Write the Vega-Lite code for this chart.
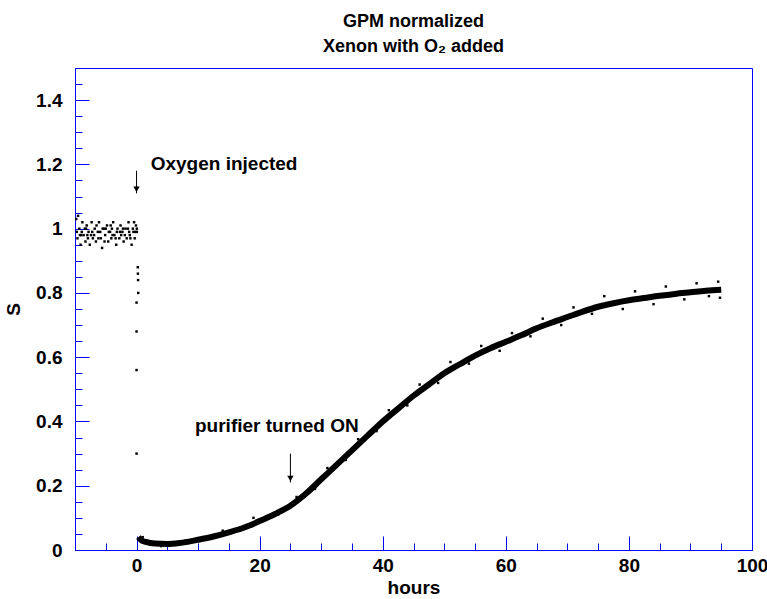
{
"$schema":"https://vega.github.io/schema/vega-lite/v6.json",
"width":677,"height":482,
"autosize":{"type":"none"},
"padding":{"left":75,"top":68,"right":15,"bottom":49},
"background":"white",
"config":{"view":{"stroke":"#0000ff","strokeWidth":1},"font":"Liberation Sans"},
"title":{"text":["GPM normalized","Xenon with O₂ added"],"font":"Liberation Sans","fontSize":18,"fontWeight":"bold","color":"black","offset":12,"anchor":"middle","lineHeight":25},
"resolve":{"axis":{"x":"independent","y":"independent"}},
"datasets":{
"pre":[
{"x":-9.8,"y":1.03},{"x":-9.6,"y":0.97},{"x":-9.3,"y":1.0},{"x":-9.1,"y":0.95},{"x":-8.8,"y":1.02},{"x":-8.6,"y":0.98},{"x":-8.3,"y":0.96},{"x":-8.1,"y":1.01},{"x":-7.8,"y":0.99},{"x":-7.6,"y":0.95},{"x":-7.3,"y":1.02},{"x":-7.1,"y":0.97},{"x":-6.8,"y":1.0},{"x":-6.6,"y":0.96},{"x":-6.3,"y":0.99},{"x":-6.1,"y":1.02},{"x":-5.8,"y":0.97},{"x":-5.6,"y":0.94},{"x":-5.3,"y":1.0},{"x":-5.1,"y":0.98},{"x":-4.8,"y":1.01},{"x":-4.6,"y":0.96},{"x":-4.3,"y":0.99},{"x":-4.1,"y":0.97},{"x":-3.8,"y":1.02},{"x":-3.6,"y":0.98},{"x":-3.3,"y":0.95},{"x":-3.1,"y":1.0},{"x":-2.8,"y":0.97},{"x":-2.6,"y":1.01},{"x":-2.3,"y":0.99},{"x":-2.1,"y":0.96},{"x":-1.8,"y":1.0},{"x":-1.6,"y":0.97},{"x":-1.3,"y":1.02},{"x":-1.1,"y":0.98},{"x":-0.8,"y":0.95},{"x":-0.6,"y":1.0},{"x":-0.3,"y":0.97},{"x":-0.1,"y":1.01},
{"x":-9.7,"y":0.99},{"x":-9.0,"y":0.98},{"x":-8.4,"y":1.0},{"x":-7.9,"y":0.97},{"x":-7.2,"y":0.99},{"x":-6.5,"y":1.01},{"x":-5.9,"y":0.99},{"x":-5.2,"y":0.96},{"x":-4.5,"y":0.99},{"x":-3.9,"y":0.98},{"x":-3.2,"y":0.99},{"x":-2.5,"y":0.98},{"x":-1.9,"y":0.98},{"x":-1.2,"y":0.99},{"x":-0.5,"y":0.99},
{"x":-9.5,"y":1.04},{"x":-8.9,"y":0.99},{"x":-8.0,"y":0.98},{"x":-6.9,"y":0.98},{"x":-5.5,"y":1.0},{"x":-4.0,"y":1.0},{"x":-2.7,"y":0.99},{"x":-1.4,"y":1.0},{"x":-0.2,"y":0.99},
{"x":-9.2,"y":0.98},{"x":-8.2,"y":1.0},{"x":-7.4,"y":0.98},{"x":-6.2,"y":0.97},{"x":-5.0,"y":1.0},{"x":-4.2,"y":1.01},{"x":-3.4,"y":0.97},{"x":-2.2,"y":1.0},{"x":-1.0,"y":0.97},{"x":-0.4,"y":1.02},
{"x":0.2,"y":0.88},{"x":0.22,"y":0.86},{"x":0.25,"y":0.84},{"x":0.27,"y":0.8},{"x":0.0,"y":0.77},{"x":0.0,"y":0.68},{"x":0.0,"y":0.56},{"x":0.0,"y":0.3},{"x":0.05,"y":1.0},{"x":0.05,"y":0.99}
],
"curve":[
{"x":0.3,"y":0.04},{"x":0.8,"y":0.03},{"x":1.5,"y":0.025},{"x":3,"y":0.02},{"x":5,"y":0.019},{"x":7,"y":0.022},{"x":10,"y":0.032},{"x":12.5,"y":0.042},{"x":15,"y":0.055},{"x":17.5,"y":0.07},{"x":20,"y":0.09},{"x":22.5,"y":0.112},{"x":25,"y":0.138},{"x":27.5,"y":0.175},{"x":30,"y":0.22},{"x":32.5,"y":0.265},{"x":35,"y":0.31},{"x":37.5,"y":0.355},{"x":40,"y":0.4},{"x":42.5,"y":0.44},{"x":45,"y":0.48},{"x":47.5,"y":0.515},{"x":50,"y":0.55},{"x":52.5,"y":0.578},{"x":55,"y":0.605},{"x":57.5,"y":0.628},{"x":60,"y":0.648},{"x":62.5,"y":0.668},{"x":65,"y":0.69},{"x":67.5,"y":0.708},{"x":70,"y":0.725},{"x":72.5,"y":0.742},{"x":75,"y":0.757},{"x":77.5,"y":0.768},{"x":80,"y":0.777},{"x":82.5,"y":0.784},{"x":85,"y":0.791},{"x":87.5,"y":0.797},{"x":90,"y":0.802},{"x":92.5,"y":0.807},{"x":95,"y":0.81}
],
"noise":[
{"x":1,"y":0.04},{"x":4,"y":0.012},{"x":8,"y":0.03},{"x":14,"y":0.06},{"x":19,"y":0.1},{"x":23,"y":0.11},{"x":26,"y":0.165},{"x":29,"y":0.19},{"x":31,"y":0.255},{"x":34,"y":0.28},{"x":36,"y":0.345},{"x":39,"y":0.37},{"x":41,"y":0.435},{"x":44,"y":0.45},{"x":46,"y":0.515},{"x":49,"y":0.52},{"x":51,"y":0.585},{"x":54,"y":0.58},{"x":56,"y":0.635},{"x":59,"y":0.62},{"x":61,"y":0.675},{"x":64,"y":0.665},{"x":66,"y":0.72},{"x":69,"y":0.7},{"x":71,"y":0.755},{"x":74,"y":0.735},{"x":76,"y":0.79},{"x":79,"y":0.75},{"x":81,"y":0.805},{"x":84,"y":0.765},{"x":86,"y":0.82},{"x":89,"y":0.78},{"x":91,"y":0.83},{"x":93,"y":0.79},{"x":94.5,"y":0.835},{"x":94.8,"y":0.785}
],
"labels":[
{"x":2.3,"y":1.2,"t":"Oxygen injected"},
{"x":9.5,"y":0.385,"t":"purifier turned ON"}
],
"arrows":[
{"x":0,"y1":1.18,"y2":1.11},
{"x":25,"y1":0.3,"y2":0.21}
]
},
"layer":[
{"data":{"name":"curve"},"mark":{"type":"line","color":"black","strokeWidth":6,"interpolate":"monotone"},
"encoding":{
"x":{"field":"x","type":"quantitative","scale":{"domain":[-10,100],"nice":false,"zero":false},
"axis":{"title":"hours","titleFontSize":19,"titleFontWeight":"bold","titleColor":"black","titlePadding":3,"orient":"bottom",
"labelFontSize":19,"labelFontWeight":"bold","labelColor":"black","labelPadding":20,
"values":[0,20,40,60,80,100],"domainColor":"#0000ff","tickColor":"#0000ff","tickSize":-14,"grid":false,"labelFlush":false}},
"y":{"field":"y","type":"quantitative","scale":{"domain":[0,1.5],"nice":false},
"axis":{"title":"S","titleFontSize":19,"titleFontWeight":"bold","titleColor":"black","titlePadding":12,"orient":"left",
"labelFontSize":19,"labelFontWeight":"bold","labelColor":"black","labelPadding":27,
"values":[0,0.2,0.4,0.6,0.8,1,1.2,1.4],"labelExpr":"datum.value==0?'0':datum.value==1?'1':format(datum.value,'.1f')",
"domainColor":"#0000ff","tickColor":"#0000ff","tickSize":-14,"grid":false}}}},
{"data":{"name":"pre"},"mark":{"type":"square","color":"black","size":6,"opacity":1},
"encoding":{"x":{"field":"x","type":"quantitative","axis":{"orient":"bottom","values":[-5,5,10,15,25,30,35,45,50,55,65,70,75,85,90,95],"labels":false,"domain":false,"title":null,"tickColor":"#0000ff","tickSize":-7,"grid":false}},
"y":{"field":"y","type":"quantitative","axis":{"orient":"left","values":[0.05,0.1,0.15,0.25,0.3,0.35,0.45,0.5,0.55,0.65,0.7,0.75,0.85,0.9,0.95,1.05,1.1,1.15,1.25,1.3,1.35,1.45],"labels":false,"domain":false,"title":null,"tickColor":"#0000ff","tickSize":-7,"grid":false}}}},
{"data":{"name":"noise"},"mark":{"type":"square","color":"black","size":6,"opacity":1},
"encoding":{"x":{"field":"x","type":"quantitative","axis":null},"y":{"field":"y","type":"quantitative","axis":null}}},
{"data":{"name":"arrows"},"mark":{"type":"rule","color":"black","strokeWidth":1},
"encoding":{"x":{"field":"x","type":"quantitative","axis":null},"y":{"field":"y1","type":"quantitative","axis":null},"y2":{"field":"y2"}}},
{"data":{"name":"arrows"},"mark":{"type":"point","shape":"triangle-down","filled":true,"color":"black","size":40,"opacity":1,"yOffset":-4},
"encoding":{"x":{"field":"x","type":"quantitative","axis":null},"y":{"field":"y2","type":"quantitative","axis":null}}},
{"data":{"name":"labels"},"mark":{"type":"text","align":"left","baseline":"middle","fontSize":19,"fontWeight":"bold","color":"black"},
"encoding":{"x":{"field":"x","type":"quantitative","axis":null},"y":{"field":"y","type":"quantitative","axis":null},"text":{"field":"t"}}}
]
}
